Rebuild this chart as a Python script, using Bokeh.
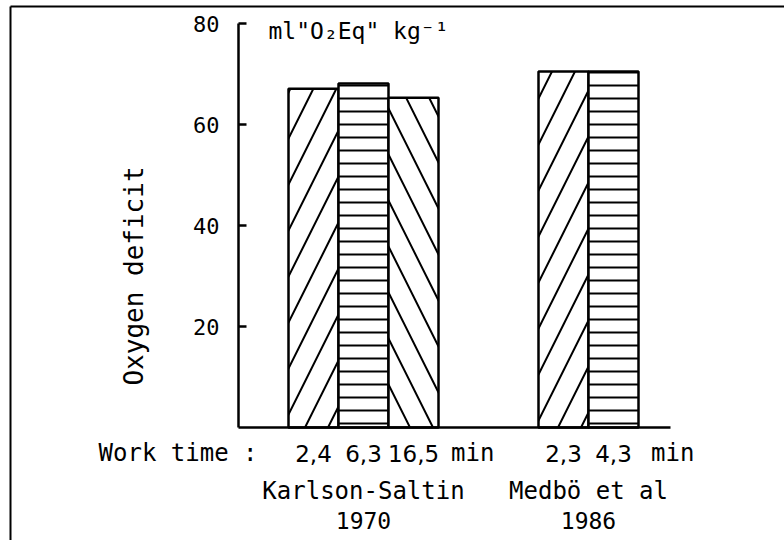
import math
from bokeh.plotting import figure
from bokeh.models import Range1d, ColumnDataSource, FixedTicker, LinearAxis
from bokeh.core.properties import value
from bokeh.embed import file_html
from bokeh.resources import INLINE

# ---- data ----
groups = ["Karlson-Saltin", "Medbö et al"]
years = ["1970", "1986"]
work_times = [["2,4", "6,3", "16,5"], ["2,3", "4,3"]]
deficit = [[67.1, 68.1, 65.3], [70.5, 70.5]]
y_ticks = [20, 40, 60, 80]
y_title = "Oxygen deficit"
unit_label = 'ml"O\u2082Eq" kg\u207b\u00b9'
x_prefix = "Work time :"
time_unit = "min"

# ---- styles / layout ----
patterns = [["/", "-", "\\"], ["/", "-"]]
scales = {"/": 46, "\\": 46, "-": 13}
MONO = "DejaVu Sans Mono"
SANS = "DejaVu Sans"
group_start = [1, 6]
X_END = 8.64             # right end of the base line (data units)
PX_X = 50.0              # px per x unit
PX_Y = 404.0 / 80.0      # px per y unit
LEFT, BOTTOM = 238, 113  # px position of the origin

xs, tops, pats, hscales = [], [], [], []
for g, vals in enumerate(deficit):
    for i, v in enumerate(vals):
        xs.append(group_start[g] + i + 0.5)
        tops.append(v)
        pats.append(patterns[g][i])
        hscales.append(scales[patterns[g][i]])
src = ColumnDataSource(dict(x=xs, top=tops, pat=pats, sc=hscales))

x0, x1 = -LEFT / PX_X, (784 - LEFT) / PX_X
y0, y1 = -BOTTOM / PX_Y, (540 - BOTTOM) / PX_Y
p = figure(width=784, height=540, output_backend="svg", toolbar_location=None,
           x_range=Range1d(x0, x1), y_range=Range1d(y0, y1),
           x_axis_type=None, y_axis_type=None, min_border=0)
p.outline_line_color = None
p.background_fill_color = "white"
p.border_fill_color = "white"

p.vbar(x="x", top="top", width=1.0, bottom=0, source=src,
       fill_color="white", line_color="black", line_width=2.5,
       hatch_pattern="pat", hatch_scale="sc", hatch_color="black", hatch_weight=2)

# axes, placed at the data origin
xa = LinearAxis(fixed_location=0, bounds=(0, X_END))
xa.axis_line_width = 2.5
xa.major_tick_line_color = None
xa.minor_tick_line_color = None
xa.major_label_text_font_size = "0px"
xa.major_label_text_color = None
p.add_layout(xa, "below")

ya = LinearAxis(fixed_location=0, bounds=(0, 80))
ya.ticker = FixedTicker(ticks=y_ticks)
ya.axis_line_width = 2.5
ya.major_tick_line_width = 2.5
ya.major_tick_in = 8
ya.major_tick_out = 0
ya.minor_tick_line_color = None
ya.major_label_text_font = MONO
ya.major_label_text_font_size = "22px"
ya.major_label_text_color = "black"
ya.major_label_standoff = 19
p.add_layout(ya, "left")

def lab(x, y, text, align="center", size="24px", font=MONO, angle=0.0):
    p.text(x=[x], y=[y], text=[text], text_align=align, text_baseline="middle",
           text_font=value(font), text_font_size=size, text_color="black", angle=angle)

# y title (rotated) and unit label
lab(-2.1, 30, y_title, size="26px", angle=math.pi / 2)
lab(0.6, 78.6, unit_label, align="left", size="23px")

# bottom labels
ROW1, ROW2, ROW3 = -5.1, -12.6, -18.4
lab(0.38, ROW1, x_prefix, align="right")
for g, times in enumerate(work_times):
    for i, t in enumerate(times):
        lab(group_start[g] + i + 0.5, ROW1, t, size="23px", font=SANS)
    lab(group_start[g] + len(times) + 0.25, ROW1, time_unit, align="left")
    center = group_start[g] + len(times) / 2
    lab(center, ROW2, groups[g])
    lab(center, ROW3, years[g], size="23px")

# scanned frame lines (left and top edge of the figure box)
fx, fy = (10 - LEFT) / PX_X, (540 - BOTTOM - 6) / PX_Y
p.segment(x0=[fx, fx], y0=[y0, fy], x1=[fx, x1], y1=[fy, fy],
          line_color="black", line_width=2)

open("out.html", "w").write(file_html(p, INLINE))
